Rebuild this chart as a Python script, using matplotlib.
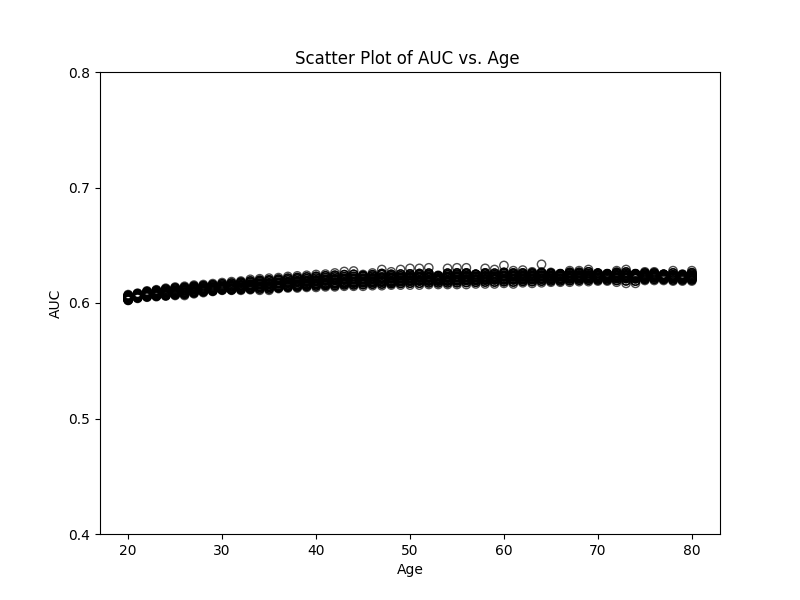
import matplotlib
matplotlib.use('Agg')
import matplotlib.pyplot as plt

ages = list(range(20, 81))

# values, one list per row of circles in the band
auc_top = [.6073, .6085, .6105, .6115, .6128, .6138, .6145, .6155, .616, .6168,
           .6177, .6185, .619, .6205, .621, .6215, .622, .623, .6235, .624,
           .6247, .625, .626, .6273, .6277, .6247, .626, .629, .627, .629,
           .630, .630, .6305, .624, .630, .6305, .6305, .625, .630, .629,
           .6325, .628, .6285, .627, .6335, .6265, .6255, .628, .628, .629,
           .626, .6255, .628, .629, .6255, .627, .627, .625, .628, .625, .628]
auc_high = [.6066, .608, .6098, .6108, .612, .613, .6135, .6145, .615, .6158,
            .6166, .6172, .618, .619, .6196, .620, .6206, .6214, .622, .6225,
            .623, .6235, .624, .6245, .6248, .6238, .6245, .6255, .6248, .625,
            .6252, .6255, .6258, .6235, .6258, .626, .626, .6248, .626, .6258,
            .6265, .626, .626, .626, .6265, .6258, .6252, .6265, .6265, .627,
            .6258, .6252, .6265, .6268, .6252, .626, .626, .6248, .626, .6245, .6262]
auc_upper = [.606, .6075, .609, .610, .611, .612, .6125, .6135, .614, .6148,
             .6155, .616, .617, .6178, .6185, .619, .6195, .620, .6208, .621,
             .6215, .622, .6225, .6228, .623, .623, .6232, .6245, .6235, .6235,
             .624, .6245, .6245, .623, .6245, .6248, .625, .6245, .625, .6245,
             .6255, .625, .625, .625, .6255, .625, .625, .6255, .6255, .6255,
             .6255, .625, .6255, .6255, .625, .625, .625, .6245, .6245, .624, .625]
auc_upmid = [.6052, .6068, .6082, .609, .610, .611, .6115, .6125, .613, .6138,
             .6145, .615, .6158, .6164, .6172, .6175, .618, .6185, .6193, .6195,
             .620, .6205, .621, .6213, .6215, .6215, .6218, .6225, .6222, .6222,
             .6226, .623, .623, .6218, .623, .6233, .6235, .6232, .6235, .6233,
             .624, .6238, .6238, .6238, .6242, .6238, .6239, .6243, .6243, .6243,
             .6244, .624, .6244, .6244, .624, .6241, .6241, .6238, .6238, .6233, .6239]
auc_midup = [.6048, .6064, .6078, .6085, .6095, .6105, .611, .612, .6125, .6133,
             .614, .6145, .6152, .6157, .6165, .6168, .6172, .6178, .6186, .6188,
             .6192, .6198, .6202, .6206, .6208, .6208, .6211, .6215, .6215, .6216,
             .6219, .6222, .6222, .6212, .6222, .6225, .6228, .6226, .6228, .6228,
             .6232, .6232, .6232, .6232, .6235, .6232, .6234, .6236, .6236, .6236,
             .6238, .6235, .6238, .6238, .6235, .6236, .6236, .6234, .6234, .6229, .6234]
auc_mid = [.6045, .606, .6075, .608, .609, .610, .6105, .6115, .612, .6128,
           .6135, .614, .6145, .615, .6158, .616, .6165, .617, .6178, .618,
           .6185, .619, .6195, .6198, .620, .620, .6203, .6205, .6208, .621,
           .6212, .6215, .6215, .6205, .6215, .6218, .622, .622, .622, .6222,
           .6225, .6225, .6225, .6225, .6228, .6225, .6228, .623, .623, .623,
           .6232, .623, .6232, .6232, .623, .6232, .6232, .623, .623, .6225, .6228]
auc_lowmid = [.6038, .6055, .6068, .6072, .608, .609, .6095, .6105, .6112, .6119,
              .6128, .613, .6135, .614, .6146, .6148, .6152, .6158, .6164, .6168,
              .6172, .6176, .618, .6184, .6186, .6188, .619, .6192, .6194, .6198,
              .620, .6202, .6202, .6198, .6202, .6205, .6208, .6208, .6209, .6211,
              .6212, .6212, .6214, .6214, .6216, .6215, .6216, .6219, .622, .622,
              .6222, .6221, .6222, .6222, .622, .6224, .6225, .6222, .6221, .6218, .6219]
auc_midlow = [.6034, .6052, .6064, .6068, .6075, .6085, .609, .61, .6108, .6115,
              .6124, .6125, .613, .6135, .614, .6142, .6146, .6152, .6157, .6162,
              .6166, .6169, .6172, .6177, .6179, .6182, .6184, .6186, .6187, .6192,
              .6194, .6196, .6196, .6194, .6196, .6198, .6202, .6202, .6204, .6206,
              .6206, .6206, .6208, .6208, .621, .621, .621, .6214, .6215, .6215,
              .6216, .6216, .6217, .6217, .6215, .622, .6222, .6218, .6216, .6214, .6215]
auc_lower = [.603, .605, .606, .6065, .607, .608, .6085, .6095, .6105, .611,
             .612, .612, .6125, .613, .6135, .6135, .614, .6145, .615, .6155,
             .616, .6162, .6165, .617, .6172, .6175, .6178, .618, .618, .6185,
             .6188, .619, .619, .619, .619, .6192, .6195, .6195, .6198, .620,
             .620, .620, .6202, .6202, .6205, .6205, .6205, .6208, .621, .621,
             .621, .6212, .6212, .6212, .621, .6215, .6218, .6215, .6212, .621, .621]
auc_low = [.6026, .6045, .6055, .606, .6065, .6072, .6075, .6088, .6098, .6105,
           .6115, .6115, .6118, .6122, .6122, .6122, .6132, .6138, .614, .6145,
           .6148, .6152, .6152, .6158, .6158, .616, .6164, .6165, .6168, .617,
           .6172, .6172, .6175, .6175, .6175, .6176, .6178, .618, .6182, .6182,
           .6185, .6182, .6188, .6186, .619, .6192, .6192, .6194, .6198, .6198,
           .620, .620, .6196, .6192, .619, .6205, .6206, .6205, .620, .620, .620]
auc_bottom = [.6022, .604, .605, .6055, .606, .6065, .6065, .608, .609, .610,
              .611, .611, .611, .6115, .611, .611, .6125, .613, .613, .6135,
              .6135, .614, .614, .6145, .6145, .6145, .615, .615, .6155, .6155,
              .6155, .6155, .616, .616, .616, .616, .616, .6165, .6165, .6165,
              .617, .6165, .6175, .617, .6175, .618, .618, .618, .6185, .6185,
              .619, .619, .618, .617, .617, .6195, .6195, .6195, .619, .619, .619]

rows = [auc_high, auc_upper, auc_upmid, auc_midup, auc_mid,
        auc_lowmid, auc_midlow, auc_lower, auc_low]

fig, ax = plt.subplots(figsize=(8, 6), dpi=100)

# outlying rings stay grey, the packed rows go nearly black
ax.scatter(ages, auc_top, facecolors='none', edgecolors='black', alpha=0.7)
ax.scatter(ages, auc_bottom, facecolors='none', edgecolors='black', alpha=0.7)
for _ in range(2):
    for auc in rows:
        ax.scatter(ages, auc, facecolors='none', edgecolors='black', alpha=0.9)

ax.set_ylim(0.4, 0.8)
ax.set_yticks([0.4, 0.5, 0.6, 0.7, 0.8])
ax.set_xlabel('Age')
ax.set_ylabel('AUC')
ax.set_title('Scatter Plot of AUC vs. Age', x=0.495)

fig.savefig('out.png')
